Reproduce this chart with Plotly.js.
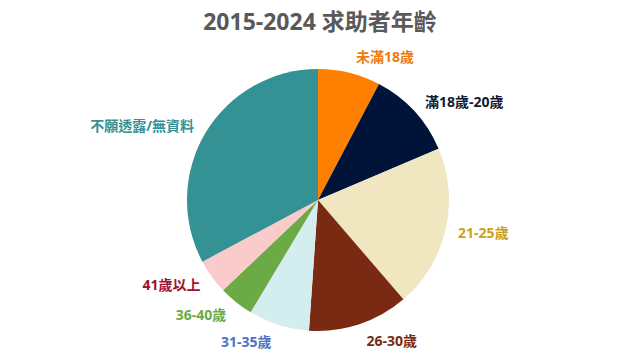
<!DOCTYPE html>
<html>
<head>
<meta charset="utf-8">
<script src="https://cdn.plot.ly/plotly-3.0.1.min.js"></script>
<style>html,body{margin:0;padding:0;background:#fff;}#chart{width:640px;height:360px;}</style>
</head>
<body>
<div id="chart"></div>
<script>
const categories = ["未滿18歲", "滿18歲-20歲", "21-25歲", "26-30歲", "31-35歲", "36-40歲", "41歲以上", "不願透露/無資料"];
const values = [7.7, 10.9, 20.1, 12.4, 7.5, 4.3, 4.3, 32.8];
const sliceColors = ["#FF8000", "#001338", "#F0E6C0", "#7A2A12", "#D4EDEF", "#6BAA45", "#FBCACA", "#349194"];
const labelColors = ["#F07A10", "#111A33", "#C9A020", "#7A2A12", "#4A74C4", "#6BAA45", "#A01030", "#349194"];

const fontFam = "'Open Sans', 'Noto Sans CJK TC', sans-serif";

// visible pie (slices only)
const pieTrace = {
  type: "pie",
  labels: categories,
  values: values,
  sort: false,
  direction: "clockwise",
  rotation: 0,
  textinfo: "none",
  hoverinfo: "label+percent",
  marker: { colors: sliceColors, line: { color: "#ffffff", width: 0 } },
  domain: { x: [0.294, 0.706], y: [0.0633, 0.9367] },
  automargin: false,
  showlegend: false
};

// transparent, slightly larger pie that carries the outside labels
const labelTrace = {
  type: "pie",
  labels: categories,
  values: values,
  sort: false,
  direction: "clockwise",
  rotation: 0,
  textinfo: "label",
  textposition: "outside",
  hoverinfo: "skip",
  marker: { colors: categories.map(() => "rgba(0,0,0,0)"), line: { width: 0 } },
  outsidetextfont: { family: fontFam, size: 14, color: labelColors, weight: "bold" },
  domain: { x: [0.2814, 0.7186], y: [0.0367, 0.9633] },
  automargin: false,
  showlegend: false
};

const layout = {
  width: 640, height: 360,
  paper_bgcolor: "#ffffff",
  margin: { l: 0, r: 4, t: 50, b: 10 },
  title: {
    text: "<b>2015-2024 求助者年齡</b>",
    font: { family: fontFam, size: 23, color: "#595959" },
    x: 0.5, xanchor: "center", y: 0.94, yanchor: "middle"
  },
  showlegend: false
};

Plotly.newPlot("chart", [pieTrace, labelTrace], layout, { displayModeBar: false, staticPlot: true });
</script>
</body>
</html>
